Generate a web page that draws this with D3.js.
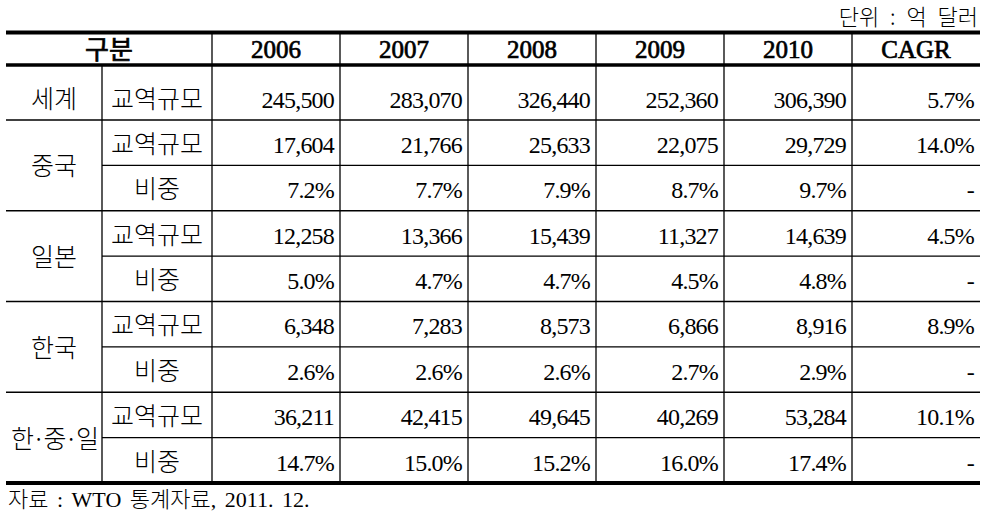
<!DOCTYPE html>
<html>
<head>
  <meta charset="utf-8">
  <script src="https://d3js.org/d3.v7.min.js"></script>
  <style type="text/css">
    body { margin: 0; background: #fff; }
    text { font-family: "Liberation Serif", "Noto Sans CJK KR", serif; fill: #000; }
    .kr { font-family: "Noto Sans CJK KR", sans-serif; font-weight: 300; }
  </style>
</head>
<body>
  <script type="text/javascript">
    // table values
    var years = ["2006", "2007", "2008", "2009", "2010", "CAGR"];
    var groups = ["세계", "중국", "일본", "한국", "한·중·일"];
    var metrics = ["교역규모", "비중"];

    var worldTrade = [245500, 283070, 326440, 252360, 306390];
    var chinaTrade = [17604, 21766, 25633, 22075, 29729];
    var japanTrade = [12258, 13366, 15439, 11327, 14639];
    var koreaTrade = [6348, 7283, 8573, 6866, 8916];
    var kcjTrade = [36211, 42415, 49645, 40269, 53284];

    var chinaShare = [7.2, 7.7, 7.9, 8.7, 9.7];
    var japanShare = [5.0, 4.7, 4.7, 4.5, 4.8];
    var koreaShare = [2.6, 2.6, 2.6, 2.7, 2.9];
    var kcjShare = [14.7, 15.0, 15.2, 16.0, 17.4];

    var cagr = [5.7, 14.0, 4.5, 8.9, 10.1];

    var unitNote = "단위 : 억 달러";
    var sourceNote = "자료 : WTO 통계자료, 2011. 12.";

    var fmtTrade = d3.format(","),
        fmtPct = function (v) { return d3.format(".1f")(v) + "%"; };

    // one entry per table row
    var rows = [
      { group: 0, metric: 0, cells: worldTrade.map(fmtTrade).concat(fmtPct(cagr[0])) },
      { group: 1, metric: 0, cells: chinaTrade.map(fmtTrade).concat(fmtPct(cagr[1])) },
      { group: 1, metric: 1, cells: chinaShare.map(fmtPct).concat("-") },
      { group: 2, metric: 0, cells: japanTrade.map(fmtTrade).concat(fmtPct(cagr[2])) },
      { group: 2, metric: 1, cells: japanShare.map(fmtPct).concat("-") },
      { group: 3, metric: 0, cells: koreaTrade.map(fmtTrade).concat(fmtPct(cagr[3])) },
      { group: 3, metric: 1, cells: koreaShare.map(fmtPct).concat("-") },
      { group: 4, metric: 0, cells: kcjTrade.map(fmtTrade).concat(fmtPct(cagr[4])) },
      { group: 4, metric: 1, cells: kcjShare.map(fmtPct).concat("-") }
    ];

    var width = 992, height = 520;
    var left = 6, right = 980, col0 = 102, col1 = 212;
    var tableTop = 32.5, headBottom = 65;

    var svg = d3.select("body").append("svg")
        .attr("width", width)
        .attr("height", height);

    svg.append("rect").attr("width", width).attr("height", height).attr("fill", "#fff");

    var x = d3.scaleBand().domain(years).range([col1, right]);

    // row tops: first data row is taller, the rest are even
    var y = d3.scaleLinear().domain([1, rows.length]).range([120, 483]);
    function rowTop(i) { return i === 0 ? headBottom : y(i); }
    function rowBottom(i) { return y(i + 1); }

    var lines = svg.append("g").attr("stroke", "#000");

    // horizontal rules
    rows.forEach(function (r, i) {
      if (i === 0) return;
      var full = r.metric === 0;
      lines.append("line")
        .attr("x1", full ? left : col0).attr("x2", right)
        .attr("y1", rowTop(i)).attr("y2", rowTop(i))
        .attr("stroke-width", 1.3);
    });

    // vertical rules
    lines.append("line")
      .attr("x1", col0).attr("x2", col0)
      .attr("y1", headBottom).attr("y2", rowBottom(rows.length - 1))
      .attr("stroke-width", 1.3);
    years.forEach(function (yr) {
      lines.append("line")
        .attr("x1", x(yr)).attr("x2", x(yr))
        .attr("y1", tableTop).attr("y2", rowBottom(rows.length - 1))
        .attr("stroke-width", 1.3);
    });

    // thick rules
    [tableTop, headBottom, rowBottom(rows.length - 1)].forEach(function (yy, k) {
      lines.append("line")
        .attr("x1", left).attr("x2", right)
        .attr("y1", yy).attr("y2", yy)
        .attr("stroke-width", k === 1 ? 3.5 : 4);
    });

    // header (semi-bold look: regular face with a thin outline)
    svg.append("text")
      .attr("class", "kr")
      .attr("x", (left + col1) / 2).attr("y", (tableTop + headBottom) / 2 + 10)
      .attr("text-anchor", "middle")
      .attr("stroke", "#000").attr("stroke-width", 0.7)
      .style("font-size", "26px").style("font-weight", 400)
      .text("구분");

    svg.selectAll("text.head").data(years).enter().append("text")
      .attr("class", "head")
      .attr("x", function (d) { return x(d) + x.bandwidth() / 2; })
      .attr("y", (tableTop + headBottom) / 2 + 9)
      .attr("text-anchor", "middle")
      .attr("stroke", "#000").attr("stroke-width", 0.7)
      .style("font-size", "25px")
      .text(function (d) { return d; });

    // group labels
    groups.forEach(function (g, gi) {
      var idx = rows.map(function (r, i) { return r.group === gi ? i : -1; })
        .filter(function (i) { return i >= 0; });
      var t = rowTop(idx[0]), b = rowBottom(idx[idx.length - 1]);
      svg.append("text")
        .attr("class", "kr")
        .attr("x", (left + col0) / 2)
        .attr("y", idx.length === 1 ? b - 12.5 : (t + b) / 2 + 10)
        .attr("text-anchor", "middle")
        .style("font-size", "25px")
        .style("letter-spacing", g.length > 2 ? "-2px" : null)
        .text(g);
    });

    // metric labels and values
    var rowG = svg.selectAll("g.row").data(rows).enter().append("g")
      .attr("class", "row")
      .attr("transform", function (d, i) { return "translate(0," + (rowBottom(i) - 12.5) + ")"; });

    rowG.append("text")
      .attr("class", "kr")
      .attr("x", (col0 + col1) / 2)
      .attr("text-anchor", "middle")
      .style("font-size", "25px")
      .text(function (d) { return metrics[d.metric]; });

    rowG.selectAll("text.val").data(function (d) { return d.cells; }).enter().append("text")
      .attr("class", "val")
      .attr("x", function (d, j) { return x(years[j]) + x.bandwidth() - 6; })
      .attr("text-anchor", "end")
      .style("font-size", "24px")
      .style("letter-spacing", "-0.8px")
      .text(function (d) { return d; });

    // notes
    svg.append("text")
      .attr("class", "kr")
      .attr("x", 978).attr("y", 25)
      .attr("text-anchor", "end")
      .style("font-size", "22px")
      .style("word-spacing", "6px")
      .text(unitNote);

    svg.append("text")
      .attr("x", 8).attr("y", 507)
      .style("font-size", "22px")
      .style("font-weight", 300)
      .style("word-spacing", "3px")
      .text(sourceNote);
  </script>
</body>
</html>
